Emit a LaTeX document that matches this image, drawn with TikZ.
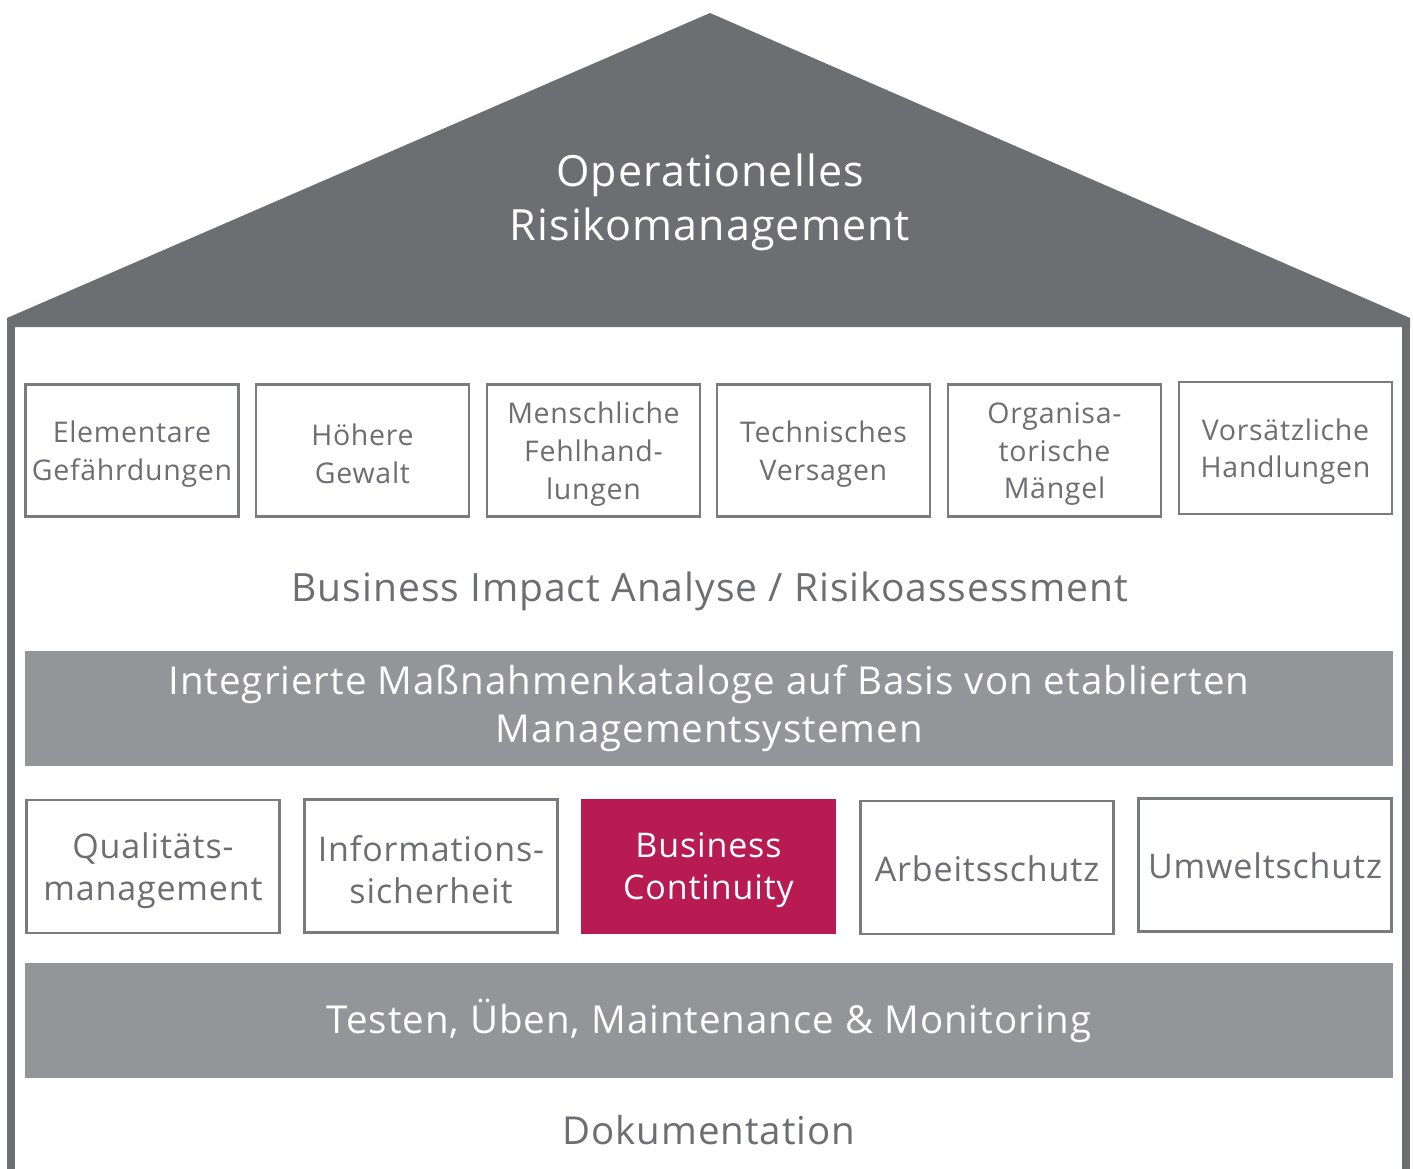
\documentclass[tikz,border=0pt]{standalone}
\usepackage{fontspec}
\setmainfont{Open Sans}[LetterSpace=2.5]
\definecolor{roofgray}{HTML}{6D6E71}
\definecolor{bandgray}{HTML}{939598}
\definecolor{linegray}{HTML}{7A7B7E}
\definecolor{txtgray}{HTML}{6D6E71}
\definecolor{bcred}{HTML}{B81A52}
\begin{document}
\begin{tikzpicture}[x=1pt,y=-1pt,
  riskbox/.style={draw=linegray, line width=2.5pt, fill=white, inner sep=0pt,
    minimum width=213pt, minimum height=132pt},
  risktext/.style={inner sep=0pt, align=center, text=txtgray, yshift=-3.5pt,
    font=\fontsize{28.5}{37.7}\selectfont},
  areabox/.style={draw=linegray, line width=2.5pt, fill=white, inner sep=0pt,
    minimum width=253pt, minimum height=133pt},
  areatext/.style={inner sep=0pt, align=center, text=txtgray, yshift=-4pt,
    font=\fontsize{34}{42}\selectfont},
  band/.style={fill=bandgray, inner sep=0pt, minimum width=1368pt, minimum height=115pt,
    align=center, text=white},
  plain/.style={inner sep=0pt, align=center, text=txtgray}]
\useasboundingbox (0,0) rectangle (1413,1169);
% roof and walls
\fill[roofgray] (7,327) -- (7,318) -- (710,13) -- (1410,318) -- (1410,327) -- cycle;
\fill[roofgray] (7,326) rectangle (15,1169);
\fill[roofgray] (1402,326) rectangle (1410,1169);
\node[inner sep=0pt, align=center, text=white, font=\fontsize{43}{54}\selectfont] (title) at (710,202) {Operationelles\\Risikomanagement};
% risk boxes
\node[riskbox, label={[risktext]center:Elementare\\Gefährdungen}] (r1) at (132,450.5) {};
\node[riskbox, label={[risktext]center:Höhere\\Gewalt}] (r2) at (362.5,450.5) {};
\node[riskbox, label={[risktext]center:Menschliche\\Fehlhand-\\lungen}] (r3) at (593.5,450.5) {};
\node[riskbox, label={[risktext]center:Technisches\\Versagen}] (r4) at (823.5,450.5) {};
\node[riskbox, label={[risktext]center:Organisa-\\torische\\Mängel}] (r5) at (1054.5,450.5) {};
\node[riskbox, label={[risktext]center:Vorsätzliche\\Handlungen}] (r6) at (1285.5,448) {};
\node[plain, font=\fontsize{39}{46}\selectfont] (bia) at (710,591) {Business Impact Analyse / Risikoassessment};
\node[band, font=\fontsize{38.5}{48}\selectfont] (mk) at (709,708.5) {Integrierte Maßnahmenkataloge auf Basis von etablierten\\Managementsystemen};
% management systems
\node[areabox, label={[areatext]center:Qualitäts-\\management}] (a1) at (153,866.5) {};
\node[areabox, label={[areatext]center:Informations-\\sicherheit}] (a2) at (431,866) {};
\node[areabox, fill=bcred, draw=bcred, label={[areatext, text=white]center:Business\\Continuity}] (a3) at (708.5,866.5) {};
\node[areabox, label={[areatext, yshift=3pt]center:Arbeitsschutz}] (a4) at (987,867.5) {};
\node[areabox, label={[areatext, yshift=3pt]center:Umweltschutz}] (a5) at (1265,865) {};
\node[band, font=\fontsize{38.5}{48}\selectfont] (test) at (709,1020.5) {Testen, Üben, Maintenance \& Monitoring};
\node[plain, font=\fontsize{38.5}{46}\selectfont] (doc) at (709,1130) {Dokumentation};
\end{tikzpicture}
\end{document}
